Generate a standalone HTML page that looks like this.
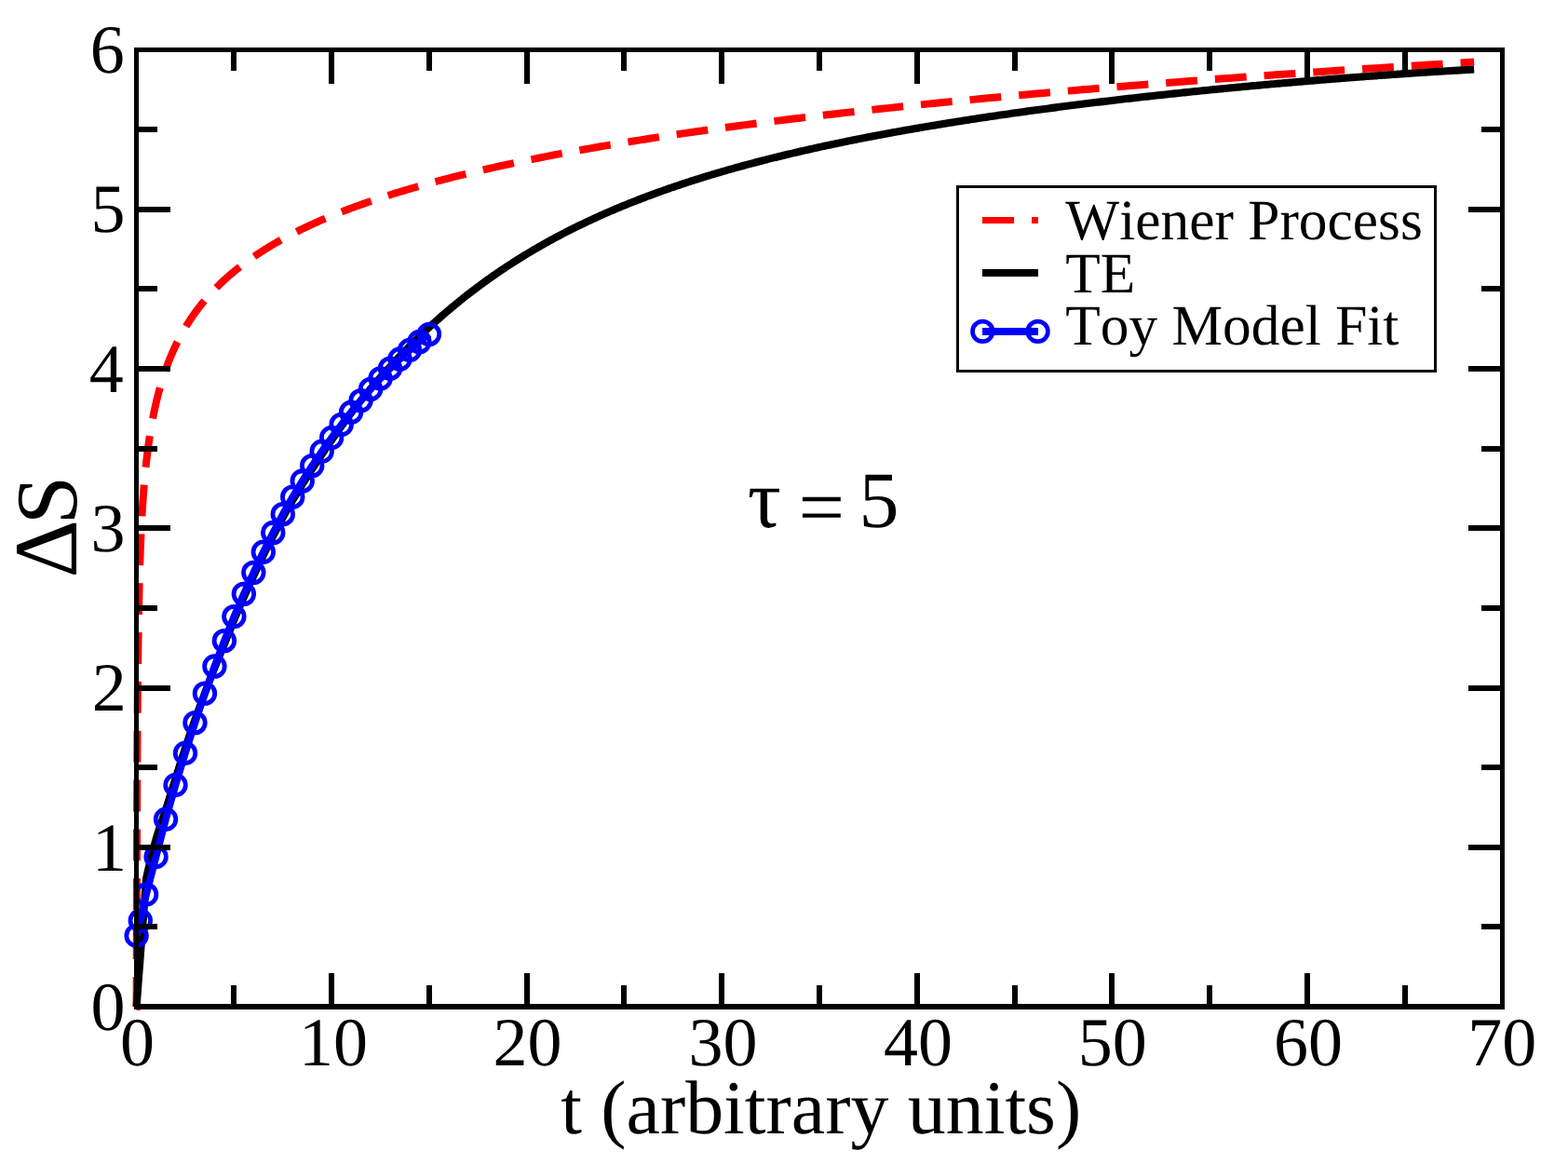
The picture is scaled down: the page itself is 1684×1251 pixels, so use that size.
<!DOCTYPE html>
<html lang="en"><head><meta charset="utf-8"><title>Entropy plot</title>
<style>html,body{margin:0;padding:0;background:#fff}body{width:1684px;height:1251px;overflow:hidden}svg{display:block}text{font-family:"Liberation Serif",serif;fill:#000;font-kerning:none;font-variant-ligatures:none;text-rendering:geometricPrecision}</style></head><body>
<svg width="1684" height="1251" viewBox="0 0 1684 1251">
<rect x="0" y="0" width="1684" height="1251" fill="#fff"/>
<path d="M146.60,1081.00 L146.60,1080.99 L146.60,1080.98 L146.60,1080.97 L146.60,1080.96 L146.60,1080.95 L146.60,1080.94 L146.60,1080.93 L146.60,1080.92 L146.60,1080.91 L146.60,1080.90 L146.61,1080.90 L146.61,1080.89 L146.61,1080.88 L146.61,1080.87 L146.61,1080.86 L146.61,1080.85 L146.61,1080.84 L146.61,1080.83 L146.61,1080.82 L146.61,1080.81 L146.61,1080.80 L146.61,1080.79 L146.61,1080.78 L146.61,1080.77 L146.61,1080.76 L146.61,1080.75 L146.61,1080.74 L146.61,1080.73 L146.61,1080.72 L146.61,1080.71 L146.61,1080.70 L146.61,1080.69 L146.61,1080.68 L146.61,1080.67 L146.61,1080.66 L146.61,1080.65 L146.61,1080.64 L146.61,1080.63 L146.61,1080.62 L146.61,1080.61 L146.61,1080.60 L146.61,1080.59 L146.61,1080.58 L146.61,1080.57 L146.61,1080.56 L146.61,1080.55 L146.61,1080.54 L146.61,1080.53 L146.61,1080.52 L146.61,1080.51 L146.61,1080.50 L146.61,1080.49 L146.61,1080.48 L146.61,1080.47 L146.61,1080.46 L146.61,1080.45 L146.61,1080.44 L146.61,1080.43 L146.61,1080.41 L146.61,1080.40 L146.61,1080.39 L146.61,1080.38 L146.61,1080.36 L146.61,1080.35 L146.61,1080.33 L146.61,1080.32 L146.61,1080.31 L146.61,1080.29 L146.61,1080.28 L146.61,1080.26 L146.61,1080.25 L146.61,1080.23 L146.61,1080.21 L146.61,1080.20 L146.61,1080.18 L146.61,1080.16 L146.61,1080.15 L146.61,1080.13 L146.62,1080.11 L146.62,1080.09 L146.62,1080.07 L146.62,1080.05 L146.62,1080.03 L146.62,1080.01 L146.62,1079.99 L146.62,1079.97 L146.62,1079.95 L146.62,1079.93 L146.62,1079.90 L146.62,1079.88 L146.62,1079.86 L146.62,1079.83 L146.62,1079.81 L146.62,1079.78 L146.62,1079.76 L146.62,1079.73 L146.62,1079.70 L146.62,1079.68 L146.62,1079.65 L146.62,1079.62 L146.62,1079.59 L146.62,1079.56 L146.62,1079.53 L146.62,1079.50 L146.62,1079.47 L146.62,1079.44 L146.62,1079.41 L146.62,1079.37 L146.62,1079.34 L146.62,1079.30 L146.62,1079.27 L146.62,1079.23 L146.62,1079.19 L146.62,1079.16 L146.62,1079.12 L146.62,1079.08 L146.62,1079.04 L146.62,1079.00 L146.62,1078.96 L146.62,1078.91 L146.62,1078.87 L146.62,1078.82 L146.62,1078.78 L146.62,1078.73 L146.62,1078.69 L146.62,1078.64 L146.62,1078.59 L146.63,1078.54 L146.63,1078.49 L146.63,1078.43 L146.63,1078.38 L146.63,1078.33 L146.63,1078.27 L146.63,1078.21 L146.63,1078.16 L146.63,1078.10 L146.63,1078.04 L146.63,1077.98 L146.63,1077.91 L146.63,1077.85 L146.63,1077.78 L146.63,1077.72 L146.63,1077.65 L146.63,1077.58 L146.63,1077.51 L146.63,1077.44 L146.63,1077.36 L146.63,1077.29 L146.63,1077.21 L146.63,1077.13 L146.63,1077.05 L146.63,1076.97 L146.63,1076.89 L146.63,1076.80 L146.63,1076.72 L146.63,1076.63 L146.63,1076.54 L146.63,1076.45 L146.63,1076.35 L146.64,1076.26 L146.64,1076.16 L146.64,1076.06 L146.64,1075.96 L146.64,1075.86 L146.64,1075.75 L146.64,1075.64 L146.64,1075.54 L146.64,1075.42 L146.64,1075.31 L146.64,1075.19 L146.64,1075.08 L146.64,1074.96 L146.64,1074.83 L146.64,1074.71 L146.64,1074.58 L146.64,1074.45 L146.64,1074.32 L146.64,1074.18 L146.64,1074.04 L146.64,1073.90 L146.64,1073.76 L146.64,1073.61 L146.64,1073.46 L146.65,1073.31 L146.65,1073.16 L146.65,1073.00 L146.65,1072.84 L146.65,1072.67 L146.65,1072.51 L146.65,1072.34 L146.65,1072.16 L146.65,1071.99 L146.65,1071.81 L146.65,1071.62 L146.65,1071.44 L146.65,1071.25 L146.65,1071.05 L146.65,1070.86 L146.65,1070.65 L146.65,1070.45 L146.65,1070.24 L146.65,1070.03 L146.66,1069.81 L146.66,1069.59 L146.66,1069.37 L146.66,1069.14 L146.66,1068.91 L146.66,1068.67 L146.66,1068.43 L146.66,1068.18 L146.66,1067.93 L146.66,1067.68 L146.66,1067.42 L146.66,1067.16 L146.66,1066.89 L146.66,1066.62 L146.66,1066.34 L146.66,1066.05 L146.67,1065.77 L146.67,1065.47 L146.67,1065.18 L146.67,1064.87 L146.67,1064.57 L146.67,1064.25 L146.67,1063.93 L146.67,1063.61 L146.67,1063.28 L146.67,1062.95 L146.67,1062.60 L146.67,1062.26 L146.67,1061.91 L146.68,1061.55 L146.68,1061.18 L146.68,1060.81 L146.68,1060.44 L146.68,1060.05 L146.68,1059.67 L146.68,1059.27 L146.68,1058.87 L146.68,1058.46 L146.68,1058.05 L146.68,1057.63 L146.68,1057.20 L146.69,1056.77 L146.69,1056.33 L146.69,1055.88 L146.69,1055.42 L146.69,1054.96 L146.69,1054.49 L146.69,1054.02 L146.69,1053.54 L146.69,1053.05 L146.69,1052.55 L146.69,1052.04 L146.70,1051.53 L146.70,1051.01 L146.70,1050.48 L146.70,1049.95 L146.70,1049.41 L146.70,1048.86 L146.70,1048.30 L146.70,1047.73 L146.70,1047.16 L146.70,1046.58 L146.71,1045.99 L146.71,1045.39 L146.71,1044.79 L146.71,1044.17 L146.71,1043.55 L146.71,1042.92 L146.71,1042.28 L146.71,1041.64 L146.72,1040.98 L146.72,1040.32 L146.72,1039.65 L146.72,1038.96 L146.72,1038.28 L146.72,1037.58 L146.72,1036.87 L146.72,1036.16 L146.73,1035.43 L146.73,1034.70 L146.73,1033.96 L146.73,1033.21 L146.73,1032.46 L146.73,1031.69 L146.73,1030.91 L146.74,1030.13 L146.74,1029.34 L146.74,1028.53 L146.74,1027.72 L146.74,1026.90 L146.74,1026.08 L146.74,1025.24 L146.75,1024.39 L146.75,1023.54 L146.75,1022.68 L146.75,1021.80 L146.75,1020.92 L146.75,1020.03 L146.75,1019.13 L146.76,1018.23 L146.76,1017.31 L146.76,1016.39 L146.76,1015.45 L146.76,1014.51 L146.76,1013.56 L146.77,1012.60 L146.77,1011.63 L146.77,1010.66 L146.77,1009.67 L146.77,1008.68 L146.78,1007.67 L146.78,1006.66 L146.78,1005.64 L146.78,1004.62 L146.78,1003.58 L146.79,1002.54 L146.79,1001.48 L146.79,1000.42 L146.79,999.36 L146.79,998.28 L146.80,997.19 L146.80,996.10 L146.80,995.00 L146.80,993.89 L146.80,992.78 L146.81,991.65 L146.81,990.52 L146.81,989.38 L146.81,988.23 L146.81,987.08 L146.82,985.92 L146.82,984.75 L146.82,983.57 L146.82,982.39 L146.83,981.20 L146.83,980.00 L146.83,978.79 L146.83,977.58 L146.84,976.36 L146.84,975.13 L146.84,973.90 L146.84,972.66 L146.85,971.42 L146.85,970.16 L146.85,968.90 L146.85,967.64 L146.86,966.37 L146.86,965.09 L146.86,963.80 L146.86,962.51 L146.87,961.22 L146.87,959.92 L146.87,958.61 L146.88,957.29 L146.88,955.98 L146.88,954.65 L146.88,953.32 L146.89,951.98 L146.89,950.64 L146.89,949.30 L146.90,947.94 L146.90,946.59 L146.90,945.23 L146.91,943.86 L146.91,942.49 L146.91,941.11 L146.92,939.73 L146.92,938.35 L146.92,936.95 L146.93,935.56 L146.93,934.16 L146.93,932.76 L146.94,931.35 L146.94,929.94 L146.94,928.52 L146.95,927.10 L146.95,925.68 L146.95,924.25 L146.96,922.82 L146.96,921.39 L146.97,919.95 L146.97,918.50 L146.97,917.06 L146.98,915.61 L146.98,914.16 L146.99,912.70 L146.99,911.24 L146.99,909.78 L147.00,908.32 L147.00,906.85 L147.01,905.38 L147.01,903.91 L147.02,902.43 L147.02,900.95 L147.02,899.47 L147.03,897.99 L147.03,896.50 L147.04,895.01 L147.04,893.52 L147.05,892.03 L147.05,890.53 L147.06,889.03 L147.06,887.53 L147.07,886.03 L147.07,884.53 L147.08,883.02 L147.08,881.51 L147.09,880.01 L147.09,878.50 L147.10,876.98 L147.10,875.47 L147.11,873.95 L147.11,872.44 L147.12,870.92 L147.12,869.40 L147.13,867.88 L147.13,866.36 L147.14,864.83 L147.15,863.31 L147.15,861.78 L147.16,860.26 L147.16,858.73 L147.17,857.20 L147.18,855.67 L147.18,854.14 L147.19,852.61 L147.19,851.08 L147.20,849.55 L147.21,848.01 L147.21,846.48 L147.22,844.95 L147.23,843.41 L147.23,841.88 L147.24,840.34 L147.25,838.81 L147.25,837.27 L147.26,835.74 L147.27,834.20 L147.27,832.67 L147.28,831.13 L147.29,829.59 L147.29,828.06 L147.30,826.52 L147.31,824.99 L147.32,823.45 L147.32,821.92 L147.33,820.38 L147.34,818.84 L147.35,817.31 L147.36,815.78 L147.36,814.24 L147.37,812.71 L147.38,811.18 L147.39,809.64 L147.40,808.11 L147.40,806.58 L147.41,805.05 L147.42,803.52 L147.43,801.99 L147.44,800.46 L147.45,798.93 L147.46,797.40 L147.47,795.88 L147.48,794.35 L147.48,792.83 L147.49,791.30 L147.50,789.78 L147.51,788.26 L147.52,786.74 L147.53,785.22 L147.54,783.70 L147.55,782.18 L147.56,780.67 L147.57,779.15 L147.58,777.64 L147.59,776.13 L147.60,774.62 L147.61,773.11 L147.62,771.60 L147.64,770.09 L147.65,768.58 L147.66,767.08 L147.67,765.58 L147.68,764.08 L147.69,762.58 L147.70,761.08 L147.71,759.58 L147.73,758.09 L147.74,756.59 L147.75,755.10 L147.76,753.61 L147.77,752.12 L147.79,750.64 L147.80,749.15 L147.81,747.67 L147.83,746.19 L147.84,744.71 L147.85,743.23 L147.86,741.76 L147.88,740.28 L147.89,738.81 L147.90,737.34 L147.92,735.87 L147.93,734.41 L147.95,732.95 L147.96,731.48 L147.98,730.02 L147.99,728.57 L148.00,727.11 L148.02,725.66 L148.03,724.21 L148.05,722.76 L148.06,721.31 L148.08,719.87 L148.10,718.43 L148.11,716.99 L148.13,715.55 L148.14,714.12 L148.16,712.68 L148.18,711.25 L148.19,709.83 L148.21,708.40 L148.23,706.98 L148.24,705.56 L148.26,704.14 L148.28,702.73 L148.30,701.31 L148.31,699.90 L148.33,698.49 L148.35,697.09 L148.37,695.69 L148.39,694.29 L148.41,692.89 L148.43,691.49 L148.45,690.10 L148.46,688.71 L148.48,687.33 L148.50,685.94 L148.52,684.56 L148.54,683.18 L148.57,681.80 L148.59,680.43 L148.61,679.06 L148.63,677.69 L148.65,676.33 L148.67,674.96 L148.69,673.61 L148.72,672.25 L148.74,670.89 L148.76,669.54 L148.78,668.20 L148.81,666.85 L148.83,665.51 L148.85,664.17 L148.88,662.83 L148.90,661.50 L148.92,660.17 L148.95,658.84 L148.97,657.51 L149.00,656.19 L149.02,654.87 L149.05,653.55 L149.08,652.24 L149.10,650.93 L149.13,649.62 L149.16,648.32 L149.18,647.02 L149.21,645.72 L149.24,644.42 L149.26,643.13 L149.29,641.84 L149.32,640.55 L149.35,639.27 L149.38,637.99 L149.41,636.71 L149.44,635.44 L149.47,634.16 L149.50,632.89 L149.53,631.63 L149.56,630.37 L149.59,629.11 L149.62,627.85 L149.65,626.59 L149.69,625.34 L149.72,624.10 L149.75,622.85 L149.79,621.61 L149.82,620.37 L149.85,619.13 L149.89,617.90 L149.92,616.67 L149.96,615.44 L149.99,614.22 L150.03,613.00 L150.06,611.78 L150.10,610.56 L150.14,609.35 L150.18,608.14 L150.21,606.93 L150.25,605.73 L150.29,604.53 L150.33,603.33 L150.37,602.13 L150.41,600.94 L150.45,599.75 L150.49,598.56 L150.53,597.38 L150.57,596.20 L150.61,595.02 L150.66,593.84 L150.70,592.67 L150.74,591.50 L150.79,590.33 L150.83,589.17 L150.87,588.00 L150.92,586.84 L150.96,585.69 L151.01,584.53 L151.06,583.38 L151.10,582.23 L151.15,581.09 L151.20,579.94 L151.25,578.80 L151.30,577.66 L151.35,576.53 L151.40,575.39 L151.45,574.26 L151.50,573.13 L151.55,572.01 L151.60,570.88 L151.66,569.76 L151.71,568.65 L151.76,567.53 L151.82,566.42 L151.87,565.30 L151.93,564.19 L151.99,563.09 L152.04,561.98 L152.10,560.88 L152.16,559.78 L152.22,558.68 L152.28,557.59 L152.34,556.50 L152.40,555.40 L152.46,554.32 L152.52,553.23 L152.58,552.14 L152.64,551.06 L152.71,549.98 L152.77,548.90 L152.84,547.83 L152.90,546.75 L152.97,545.68 L153.04,544.61 L153.11,543.54 L153.17,542.48 L153.24,541.41 L153.31,540.35 L153.38,539.29 L153.46,538.23 L153.53,537.17 L153.60,536.12 L153.68,535.07 L153.75,534.02 L153.83,532.97 L153.90,531.92 L153.98,530.87 L154.06,529.83 L154.14,528.78 L154.22,527.74 L154.30,526.70 L154.38,525.67 L154.46,524.63 L154.54,523.60 L154.63,522.56 L154.71,521.53 L154.80,520.50 L154.88,519.47 L154.97,518.45 L155.06,517.42 L155.15,516.40 L155.24,515.38 L155.33,514.36 L155.42,513.34 L155.51,512.32 L155.61,511.30 L155.70,510.29 L155.80,509.27 L155.90,508.26 L155.99,507.25 L156.09,506.24 L156.19,505.23 L156.30,504.22 L156.40,503.22 L156.50,502.21 L156.61,501.21 L156.71,500.21 L156.82,499.20 L156.93,498.20 L157.03,497.21 L157.15,496.21 L157.26,495.21 L157.37,494.22 L157.48,493.22 L157.60,492.23 L157.71,491.24 L157.83,490.24 L157.95,489.25 L158.07,488.27 L158.19,487.28 L158.31,486.29 L158.44,485.30 L158.56,484.32 L158.69,483.34 L158.82,482.35 L158.94,481.37 L159.07,480.39 L159.21,479.41 L159.34,478.43 L159.47,477.45 L159.61,476.47 L159.75,475.50 L159.89,474.52 L160.03,473.55 L160.17,472.57 L160.31,471.60 L160.46,470.63 L160.60,469.66 L160.75,468.69 L160.90,467.72 L161.05,466.75 L161.20,465.78 L161.36,464.81 L161.51,463.84 L161.67,462.88 L161.83,461.91 L161.99,460.95 L162.15,459.98 L162.32,459.02 L162.48,458.06 L162.65,457.10 L162.82,456.14 L162.99,455.18 L163.16,454.22 L163.34,453.26 L163.51,452.30 L163.69,451.34 L163.87,450.39 L164.06,449.43 L164.24,448.47 L164.43,447.52 L164.61,446.56 L164.81,445.61 L165.00,444.66 L165.19,443.70 L165.39,442.75 L165.59,441.80 L165.79,440.85 L165.99,439.90 L166.19,438.95 L166.40,438.00 L166.61,437.05 L166.82,436.10 L167.03,435.16 L167.25,434.21 L167.47,433.26 L167.69,432.32 L167.91,431.37 L168.14,430.43 L168.36,429.48 L168.59,428.54 L168.82,427.60 L169.06,426.65 L169.30,425.71 L169.54,424.77 L169.78,423.83 L170.02,422.89 L170.27,421.95 L170.52,421.01 L170.77,420.07 L171.03,419.13 L171.29,418.19 L171.55,417.25 L171.81,416.31 L172.08,415.37 L172.34,414.44 L172.62,413.50 L172.89,412.56 L173.17,411.63 L173.45,410.69 L173.73,409.76 L174.02,408.82 L174.31,407.89 L174.60,406.95 L174.90,406.02 L175.19,405.09 L175.50,404.16 L175.80,403.22 L176.11,402.29 L176.42,401.36 L176.74,400.43 L177.05,399.50 L177.38,398.57 L177.70,397.64 L178.03,396.71 L178.36,395.78 L178.70,394.85 L179.03,393.92 L179.38,392.99 L179.72,392.06 L180.07,391.13 L180.43,390.21 L180.78,389.28 L181.14,388.35 L181.51,387.42 L181.88,386.50 L182.25,385.57 L182.63,384.65 L183.01,383.72 L183.39,382.79 L183.78,381.87 L184.17,380.94 L184.57,380.02 L184.97,379.10 L185.37,378.17 L185.78,377.25 L186.20,376.32 L186.61,375.40 L187.04,374.48 L187.46,373.56 L187.90,372.63 L188.33,371.71 L188.77,370.79 L189.22,369.87 L189.67,368.95 L190.12,368.02 L190.58,367.10 L191.05,366.18 L191.51,365.26 L191.99,364.34 L192.47,363.42 L192.95,362.50 L193.44,361.58 L193.94,360.66 L194.44,359.74 L194.94,358.83 L195.45,357.91 L195.97,356.99 L196.49,356.07 L197.01,355.15 L197.55,354.23 L198.08,353.32 L198.63,352.40 L199.18,351.48 L199.73,350.56 L200.29,349.65 L200.86,348.73 L201.43,347.81 L202.01,346.90 L202.60,345.98 L203.19,345.07 L203.78,344.15 L204.39,343.23 L205.00,342.32 L205.61,341.40 L206.24,340.49 L206.87,339.57 L207.50,338.66 L208.15,337.74 L208.80,336.83 L209.45,335.92 L210.12,335.00 L210.79,334.09 L211.46,333.17 L212.15,332.26 L212.84,331.35 L213.54,330.43 L214.25,329.52 L214.96,328.61 L215.68,327.69 L216.41,326.78 L217.15,325.87 L217.89,324.96 L218.64,324.04 L219.41,323.13 L220.17,322.22 L220.95,321.31 L221.74,320.40 L222.53,319.48 L223.33,318.57 L224.14,317.66 L224.96,316.75 L225.79,315.84 L226.62,314.93 L227.47,314.02 L228.32,313.11 L229.18,312.20 L230.05,311.28 L230.93,310.37 L231.83,309.46 L232.72,308.55 L233.63,307.64 L234.55,306.73 L235.48,305.82 L236.42,304.91 L237.37,304.01 L238.33,303.10 L239.29,302.19 L240.27,301.28 L241.26,300.37 L242.26,299.46 L243.27,298.55 L244.29,297.64 L245.32,296.73 L246.36,295.82 L247.42,294.92 L248.48,294.01 L249.56,293.10 L250.64,292.19 L251.74,291.28 L252.85,290.37 L253.97,289.47 L255.11,288.56 L256.25,287.65 L257.41,286.74 L258.58,285.84 L259.76,284.93 L260.96,284.02 L262.16,283.11 L263.38,282.21 L264.62,281.30 L265.86,280.39 L267.12,279.48 L268.39,278.58 L269.68,277.67 L270.98,276.76 L272.29,275.86 L273.62,274.95 L274.96,274.04 L276.31,273.14 L277.68,272.23 L279.07,271.33 L280.46,270.42 L281.88,269.51 L283.31,268.61 L284.75,267.70 L286.21,266.80 L287.68,265.89 L289.17,264.98 L290.67,264.08 L292.20,263.17 L293.73,262.27 L295.29,261.36 L296.85,260.46 L298.44,259.55 L300.04,258.65 L301.66,257.74 L303.30,256.84 L304.95,255.93 L306.63,255.03 L308.32,254.12 L310.02,253.22 L311.75,252.31 L313.49,251.41 L315.25,250.50 L317.03,249.60 L318.83,248.69 L320.65,247.79 L322.49,246.88 L324.34,245.98 L326.22,245.07 L328.12,244.17 L330.03,243.27 L331.97,242.36 L333.93,241.46 L335.90,240.55 L337.90,239.65 L339.92,238.74 L341.96,237.84 L344.02,236.94 L346.11,236.03 L348.21,235.13 L350.34,234.23 L352.49,233.32 L354.67,232.42 L356.86,231.51 L359.08,230.61 L361.32,229.71 L363.59,228.80 L365.88,227.90 L368.20,227.00 L370.54,226.09 L372.90,225.19 L375.29,224.29 L377.70,223.38 L380.14,222.48 L382.61,221.58 L385.10,220.68 L387.62,219.77 L390.16,218.87 L392.73,217.97 L395.33,217.06 L397.95,216.16 L400.61,215.26 L403.29,214.35 L406.00,213.45 L408.74,212.55 L411.50,211.65 L414.30,210.74 L417.13,209.84 L419.98,208.94 L422.87,208.04 L425.78,207.13 L428.73,206.23 L431.71,205.33 L434.72,204.43 L437.76,203.52 L440.83,202.62 L443.94,201.72 L447.08,200.82 L450.25,199.92 L453.46,199.01 L456.69,198.11 L459.97,197.21 L463.28,196.31 L466.62,195.40 L470.00,194.50 L473.41,193.60 L476.86,192.70 L480.35,191.80 L483.87,190.89 L487.43,189.99 L491.03,189.09 L494.66,188.19 L498.34,187.29 L502.05,186.39 L505.80,185.48 L509.59,184.58 L513.43,183.68 L517.30,182.78 L521.21,181.88 L525.17,180.98 L529.16,180.07 L533.20,179.17 L537.28,178.27 L541.41,177.37 L545.57,176.47 L549.78,175.57 L554.04,174.66 L558.34,173.76 L562.69,172.86 L567.08,171.96 L571.52,171.06 L576.00,170.16 L580.54,169.26 L585.12,168.36 L589.75,167.45 L594.42,166.55 L599.15,165.65 L603.93,164.75 L608.76,163.85 L613.63,162.95 L618.57,162.05 L623.55,161.15 L628.58,160.25 L633.67,159.34 L638.81,158.44 L644.01,157.54 L649.26,156.64 L654.56,155.74 L659.93,154.84 L665.34,153.94 L670.82,153.04 L676.35,152.14 L681.95,151.24 L687.60,150.33 L693.31,149.43 L699.08,148.53 L704.91,147.63 L710.80,146.73 L716.76,145.83 L722.78,144.93 L728.86,144.03 L735.01,143.13 L741.22,142.23 L747.49,141.33 L753.84,140.43 L760.25,139.53 L766.73,138.63 L773.27,137.72 L779.89,136.82 L786.57,135.92 L793.33,135.02 L800.15,134.12 L807.05,133.22 L814.02,132.32 L821.07,131.42 L828.19,130.52 L835.38,129.62 L842.66,128.72 L850.00,127.82 L857.43,126.92 L864.93,126.02 L872.51,125.12 L880.18,124.22 L887.92,123.32 L895.75,122.42 L903.65,121.52 L911.65,120.62 L919.72,119.72 L927.88,118.82 L936.13,117.91 L944.46,117.01 L952.89,116.11 L961.40,115.21 L970.00,114.31 L978.69,113.41 L987.47,112.51 L996.35,111.61 L1005.32,110.71 L1014.38,109.81 L1023.54,108.91 L1032.80,108.01 L1042.16,107.11 L1051.61,106.21 L1061.16,105.31 L1070.82,104.41 L1080.57,103.51 L1090.43,102.61 L1100.40,101.71 L1110.46,100.81 L1120.64,99.91 L1130.92,99.01 L1141.31,98.11 L1151.81,97.21 L1162.42,96.31 L1173.14,95.41 L1183.98,94.51 L1194.93,93.61 L1206.00,92.71 L1217.18,91.81 L1228.48,90.91 L1239.90,90.01 L1251.44,89.11 L1263.11,88.21 L1274.89,87.31 L1286.80,86.41 L1298.84,85.51 L1311.00,84.61 L1323.29,83.71 L1335.71,82.81 L1348.27,81.91 L1360.95,81.01 L1373.77,80.11 L1386.72,79.21 L1399.81,78.31 L1413.04,77.41 L1426.41,76.51 L1439.92,75.61 L1453.57,74.71 L1467.37,73.81 L1481.31,72.91 L1495.40,72.01 L1509.64,71.11 L1524.03,70.21 L1538.57,69.31 L1553.26,68.41 L1568.11,67.51 L1583.11,66.61" fill="none" stroke="#ff0000" stroke-width="8.00" stroke-dasharray="33.90 18.95" stroke-dashoffset="1.80"/>
<path d="M146.60,1081.00 L146.81,1078.23 L147.02,1075.46 L147.23,1072.70 L147.44,1069.93 L147.65,1067.16 L147.86,1064.39 L148.07,1061.63 L148.28,1058.86 L148.50,1056.09 L148.71,1053.32 L148.92,1050.56 L149.13,1047.79 L149.34,1045.02 L149.55,1042.25 L149.76,1039.49 L149.97,1036.72 L150.18,1033.95 L150.39,1031.18 L150.60,1028.42 L150.81,1025.65 L151.02,1022.88 L151.23,1020.11 L151.44,1017.35 L151.65,1014.58 L151.87,1011.81 L152.08,1009.04 L152.29,1006.28 L152.50,1003.51 L152.71,1000.74 L152.92,997.97 L153.13,995.21 L153.34,992.44 L153.55,989.67 L153.76,986.90 L153.97,984.14 L154.18,981.37 L154.39,978.60 L154.60,975.83 L154.81,973.07 L155.02,970.30 L155.24,967.53 L155.45,964.76 L155.66,962.00 L155.87,959.23 L156.08,956.46 L156.29,953.69 L156.50,950.93 L156.71,948.16 L156.92,945.39 L157.13,943.08 L157.34,942.13 L157.55,941.18 L157.76,940.24 L157.97,939.30 L158.18,938.37 L158.39,937.44 L158.60,936.51 L158.82,935.59 L159.03,934.67 L159.24,933.76 L159.45,932.85 L159.66,931.94 L159.87,931.04 L160.08,930.14 L160.29,929.24 L160.50,928.35 L160.71,927.47 L160.92,926.59 L161.13,925.71 L161.34,924.83 L161.55,923.97 L161.76,923.10 L161.97,922.24 L162.19,921.39 L162.40,920.53 L162.61,919.69 L162.82,918.85 L163.03,918.01 L163.24,917.18 L163.45,916.35 L163.66,915.52 L163.87,914.71 L164.08,913.89 L164.29,913.08 L164.50,912.28 L164.71,911.48 L164.92,910.69 L165.13,909.90 L165.34,909.11 L165.55,908.33 L165.77,907.56 L165.98,906.79 L166.19,906.03 L166.40,905.27 L166.61,904.51 L166.82,903.76 L167.03,903.02 L167.24,902.28 L167.45,901.55 L167.66,900.83 L167.87,900.11 L168.08,899.39 L168.29,898.69 L168.50,897.99 L168.71,897.30 L168.92,896.62 L169.14,895.94 L169.35,895.27 L169.56,894.60 L169.77,893.94 L169.98,893.29 L170.19,892.64 L170.40,891.99 L170.61,891.35 L170.82,890.71 L171.03,890.08 L171.24,889.45 L171.45,888.82 L171.66,888.20 L171.87,887.58 L172.08,886.96 L172.29,886.34 L172.51,885.73 L172.72,885.12 L172.93,884.51 L173.14,883.90 L173.35,883.29 L173.56,882.69 L173.77,882.08 L173.98,881.47 L174.19,880.87 L174.40,880.26 L174.61,879.66 L174.82,879.05 L175.03,878.44 L175.24,877.83 L175.45,877.22 L175.66,876.61 L175.87,875.99 L176.09,875.37 L176.30,874.75 L176.51,874.13 L176.72,873.50 L176.93,872.88 L177.14,872.24 L177.35,871.61 L177.56,870.96 L177.77,870.32 L177.98,869.67 L178.19,869.02 L178.40,868.36 L178.61,867.70 L178.82,867.04 L179.03,866.38 L179.24,865.72 L179.46,865.06 L179.67,864.39 L179.88,863.73 L180.09,863.06 L180.30,862.39 L180.51,861.72 L180.72,861.05 L180.93,860.38 L181.14,859.71 L181.35,859.03 L181.56,858.36 L181.77,857.69 L181.98,857.01 L182.19,856.34 L182.40,855.66 L182.61,854.98 L182.82,854.30 L183.04,853.63 L183.25,852.95 L183.46,852.27 L183.67,851.59 L183.88,850.92 L184.09,850.24 L184.30,849.56 L184.51,848.88 L184.72,848.20 L184.93,847.53 L185.14,846.85 L185.35,846.17 L185.56,845.50 L185.77,844.82 L185.98,844.15 L186.19,843.47 L186.41,842.80 L186.62,842.12 L186.83,841.45 L187.04,840.78 L187.25,840.11 L187.46,839.44 L187.67,838.77 L187.88,838.11 L188.09,837.44 L188.30,836.78 L188.51,836.11 L190.51,829.84 L192.50,823.58 L194.50,817.36 L196.49,811.19 L198.49,805.10 L200.48,799.07 L202.48,793.08 L204.47,787.16 L206.47,781.32 L208.46,775.59 L210.46,769.99 L212.45,764.54 L214.45,759.19 L216.44,753.90 L218.44,748.64 L220.43,743.37 L222.43,738.09 L224.42,732.81 L226.42,727.58 L228.41,722.40 L230.41,717.30 L232.40,712.31 L234.40,707.41 L236.39,702.56 L238.39,697.72 L240.39,692.85 L242.38,687.90 L244.38,682.91 L246.37,677.89 L248.37,672.91 L250.36,668.01 L252.36,663.21 L254.35,658.49 L256.35,653.83 L258.34,649.22 L260.34,644.67 L262.33,640.16 L264.33,635.71 L266.32,631.31 L268.32,626.96 L270.31,622.64 L272.31,618.34 L274.30,614.06 L276.30,609.80 L278.29,605.58 L280.29,601.40 L282.28,597.27 L284.28,593.22 L286.27,589.22 L288.27,585.26 L290.26,581.35 L292.26,577.47 L294.25,573.61 L296.25,569.76 L298.24,565.94 L300.24,562.16 L302.23,558.43 L304.23,554.76 L306.22,551.15 L308.22,547.58 L310.21,544.06 L312.21,540.59 L314.21,537.18 L316.20,533.82 L318.20,530.53 L320.19,527.27 L322.19,524.05 L324.18,520.85 L326.18,517.67 L328.17,514.50 L330.17,511.36 L332.16,508.24 L334.16,505.15 L336.15,502.09 L338.15,499.05 L340.14,496.04 L342.14,493.05 L344.13,490.08 L346.13,487.13 L348.12,484.19 L350.12,481.28 L352.11,478.38 L354.11,475.50 L356.10,472.63 L358.10,469.76 L360.09,466.90 L362.09,464.05 L364.08,461.22 L366.08,458.42 L368.07,455.66 L370.07,452.91 L372.06,450.19 L374.06,447.49 L376.05,444.83 L378.05,442.21 L380.04,439.63 L382.04,437.08 L384.04,434.55 L386.03,432.04 L388.03,429.54 L390.02,427.07 L392.02,424.62 L394.01,422.19 L396.01,419.80 L398.00,417.44 L400.00,415.11 L401.99,412.81 L403.99,410.54 L405.98,408.28 L407.98,406.05 L409.97,403.79 L411.97,401.54 L413.96,399.29 L415.96,397.07 L417.95,394.87 L419.95,392.68 L421.94,390.51 L423.94,388.36 L425.93,386.23 L427.93,384.11 L429.92,382.01 L431.92,379.93 L433.91,377.86 L435.91,375.82 L437.90,373.78 L439.90,371.77 L441.89,369.77 L443.89,367.79 L445.88,365.82 L447.88,363.87 L449.87,361.94 L451.87,360.02 L453.87,358.11 L455.86,356.23 L457.86,354.35 L459.85,352.50 L461.85,350.65 L463.84,348.83 L465.84,347.02 L467.83,345.22 L469.83,343.44 L471.82,341.67 L473.82,339.91 L475.81,338.17 L477.81,336.45 L479.80,334.74 L481.80,333.04 L483.79,331.36 L485.79,329.69 L487.78,328.03 L489.78,326.39 L491.77,324.76 L493.77,323.14 L495.76,321.54 L497.76,319.95 L499.75,318.37 L501.75,316.81 L503.74,315.26 L505.74,313.72 L507.73,312.19 L509.73,310.67 L511.72,309.17 L513.72,307.68 L515.71,306.20 L517.71,304.74 L519.70,303.28 L521.70,301.84 L523.69,300.41 L525.69,298.99 L527.69,297.58 L529.68,296.18 L531.68,294.80 L533.67,293.42 L535.67,292.06 L537.66,290.70 L539.66,289.36 L541.65,288.03 L543.65,286.71 L545.64,285.40 L547.64,284.10 L549.63,282.81 L551.63,281.53 L553.62,280.26 L555.62,279.00 L557.61,277.75 L559.61,276.51 L561.60,275.28 L563.60,274.06 L565.59,272.85 L567.59,271.64 L569.58,270.45 L571.58,269.27 L573.57,268.10 L575.57,266.93 L577.56,265.77 L579.56,264.63 L581.55,263.49 L583.55,262.36 L585.54,261.24 L587.54,260.13 L589.53,259.02 L591.53,257.93 L593.52,256.84 L595.52,255.76 L597.52,254.69 L599.51,253.63 L601.51,252.58 L603.50,251.53 L605.50,250.49 L607.49,249.46 L609.49,248.44 L611.48,247.43 L613.48,246.42 L615.47,245.42 L617.47,244.43 L619.46,243.44 L621.46,242.46 L623.45,241.49 L625.45,240.53 L627.44,239.57 L629.44,238.62 L631.43,237.68 L633.43,236.75 L635.42,235.82 L637.42,234.90 L639.41,233.98 L641.41,233.07 L643.40,232.17 L645.40,231.28 L647.39,230.39 L649.39,229.50 L651.38,228.63 L653.38,227.76 L655.37,226.89 L657.37,226.04 L659.36,225.19 L661.36,224.34 L663.35,223.50 L665.35,222.67 L667.35,221.84 L669.34,221.02 L671.34,220.20 L673.33,219.39 L675.33,218.59 L677.32,217.79 L679.32,216.99 L681.31,216.20 L683.31,215.42 L685.30,214.64 L687.30,213.87 L689.29,213.10 L691.29,212.34 L693.28,211.59 L695.28,210.83 L697.27,210.09 L699.27,209.35 L701.26,208.61 L703.26,207.88 L705.25,207.15 L707.25,206.43 L709.24,205.71 L711.24,205.00 L713.23,204.29 L715.23,203.59 L717.22,202.89 L719.22,202.20 L721.21,201.51 L723.21,200.82 L725.20,200.14 L727.20,199.47 L729.19,198.80 L731.19,198.13 L733.18,197.46 L735.18,196.81 L737.17,196.15 L739.17,195.50 L741.17,194.85 L743.16,194.21 L745.16,193.57 L747.15,192.94 L749.15,192.31 L751.14,191.68 L753.14,191.06 L755.13,190.44 L757.13,189.82 L759.12,189.21 L761.12,188.61 L763.11,188.00 L765.11,187.40 L767.10,186.81 L769.10,186.21 L771.09,185.62 L773.09,185.04 L775.08,184.45 L777.08,183.88 L779.07,183.30 L781.07,182.73 L783.06,182.16 L785.06,181.59 L787.05,181.03 L789.05,180.47 L791.04,179.92 L793.04,179.36 L795.03,178.82 L797.03,178.27 L799.02,177.73 L801.02,177.19 L803.01,176.65 L805.01,176.12 L807.00,175.59 L809.00,175.06 L811.00,174.53 L812.99,174.01 L814.99,173.49 L816.98,172.98 L818.98,172.46 L820.97,171.95 L822.97,171.45 L824.96,170.94 L826.96,170.44 L828.95,169.94 L830.95,169.44 L832.94,168.95 L834.94,168.46 L836.93,167.97 L838.93,167.48 L840.92,167.00 L842.92,166.52 L844.91,166.04 L846.91,165.56 L848.90,165.09 L850.90,164.62 L852.89,164.15 L854.89,163.69 L856.88,163.22 L858.88,162.76 L860.87,162.30 L862.87,161.85 L864.86,161.39 L866.86,160.94 L868.85,160.49 L870.85,160.04 L872.84,159.60 L874.84,159.15 L876.83,158.71 L878.83,158.28 L880.82,157.84 L882.82,157.41 L884.82,156.97 L886.81,156.54 L888.81,156.12 L890.80,155.69 L892.80,155.27 L894.79,154.85 L896.79,154.43 L898.78,154.01 L900.78,153.59 L902.77,153.18 L904.77,152.77 L906.76,152.36 L908.76,151.95 L910.75,151.54 L912.75,151.14 L914.74,150.74 L916.74,150.34 L918.73,149.94 L920.73,149.54 L922.72,149.15 L924.72,148.76 L926.71,148.37 L928.71,147.98 L930.70,147.59 L932.70,147.20 L934.69,146.82 L936.69,146.44 L938.68,146.06 L940.68,145.68 L942.67,145.30 L944.67,144.92 L946.66,144.55 L948.66,144.18 L950.65,143.81 L952.65,143.44 L954.65,143.07 L956.64,142.71 L958.64,142.34 L960.63,141.98 L962.63,141.62 L964.62,141.26 L966.62,140.90 L968.61,140.54 L970.61,140.19 L972.60,139.84 L974.60,139.48 L976.59,139.13 L978.59,138.79 L980.58,138.44 L982.58,138.09 L984.57,137.75 L986.57,137.40 L988.56,137.06 L990.56,136.72 L992.55,136.38 L994.55,136.04 L996.54,135.71 L998.54,135.37 L1000.53,135.04 L1002.53,134.71 L1004.52,134.38 L1006.52,134.05 L1008.51,133.72 L1010.51,133.39 L1012.50,133.07 L1014.50,132.74 L1016.49,132.42 L1018.49,132.10 L1020.48,131.78 L1022.48,131.46 L1024.48,131.14 L1026.47,130.82 L1028.47,130.51 L1030.46,130.19 L1032.46,129.88 L1034.45,129.57 L1036.45,129.26 L1038.44,128.95 L1040.44,128.64 L1042.43,128.33 L1044.43,128.03 L1046.42,127.72 L1048.42,127.42 L1050.41,127.12 L1052.41,126.81 L1054.40,126.51 L1056.40,126.22 L1058.39,125.92 L1060.39,125.62 L1062.38,125.32 L1064.38,125.03 L1066.37,124.74 L1068.37,124.44 L1070.36,124.15 L1072.36,123.86 L1074.35,123.57 L1076.35,123.28 L1078.34,123.00 L1080.34,122.71 L1082.33,122.43 L1084.33,122.14 L1086.32,121.86 L1088.32,121.58 L1090.31,121.29 L1092.31,121.01 L1094.30,120.74 L1096.30,120.46 L1098.30,120.18 L1100.29,119.90 L1102.29,119.63 L1104.28,119.36 L1106.28,119.08 L1108.27,118.81 L1110.27,118.54 L1112.26,118.27 L1114.26,118.00 L1116.25,117.73 L1118.25,117.46 L1120.24,117.20 L1122.24,116.93 L1124.23,116.67 L1126.23,116.40 L1128.22,116.14 L1130.22,115.88 L1132.21,115.62 L1134.21,115.36 L1136.20,115.10 L1138.20,114.84 L1140.19,114.58 L1142.19,114.32 L1144.18,114.07 L1146.18,113.81 L1148.17,113.56 L1150.17,113.31 L1152.16,113.05 L1154.16,112.80 L1156.15,112.55 L1158.15,112.30 L1160.14,112.05 L1162.14,111.81 L1164.13,111.56 L1166.13,111.31 L1168.13,111.07 L1170.12,110.82 L1172.12,110.58 L1174.11,110.33 L1176.11,110.09 L1178.10,109.85 L1180.10,109.61 L1182.09,109.37 L1184.09,109.13 L1186.08,108.89 L1188.08,108.66 L1190.07,108.42 L1192.07,108.18 L1194.06,107.95 L1196.06,107.71 L1198.05,107.48 L1200.05,107.25 L1202.04,107.01 L1204.04,106.78 L1206.03,106.55 L1208.03,106.32 L1210.02,106.09 L1212.02,105.87 L1214.01,105.64 L1216.01,105.41 L1218.00,105.18 L1220.00,104.96 L1221.99,104.73 L1223.99,104.51 L1225.98,104.29 L1227.98,104.07 L1229.97,103.84 L1231.97,103.62 L1233.96,103.40 L1235.96,103.18 L1237.96,102.96 L1239.95,102.75 L1241.95,102.53 L1243.94,102.31 L1245.94,102.10 L1247.93,101.88 L1249.93,101.67 L1251.92,101.45 L1253.92,101.24 L1255.91,101.03 L1257.91,100.81 L1259.90,100.60 L1261.90,100.39 L1263.89,100.18 L1265.89,99.97 L1267.88,99.77 L1269.88,99.56 L1271.87,99.35 L1273.87,99.14 L1275.86,98.94 L1277.86,98.73 L1279.85,98.53 L1281.85,98.33 L1283.84,98.12 L1285.84,97.92 L1287.83,97.72 L1289.83,97.52 L1291.82,97.32 L1293.82,97.12 L1295.81,96.92 L1297.81,96.72 L1299.80,96.52 L1301.80,96.32 L1303.79,96.13 L1305.79,95.93 L1307.78,95.74 L1309.78,95.54 L1311.78,95.35 L1313.77,95.16 L1315.77,94.96 L1317.76,94.77 L1319.76,94.58 L1321.75,94.39 L1323.75,94.20 L1325.74,94.01 L1327.74,93.82 L1329.73,93.63 L1331.73,93.44 L1333.72,93.26 L1335.72,93.07 L1337.71,92.88 L1339.71,92.70 L1341.70,92.51 L1343.70,92.33 L1345.69,92.15 L1347.69,91.96 L1349.68,91.78 L1351.68,91.60 L1353.67,91.42 L1355.67,91.24 L1357.66,91.06 L1359.66,90.88 L1361.65,90.70 L1363.65,90.52 L1365.64,90.34 L1367.64,90.17 L1369.63,89.99 L1371.63,89.82 L1373.62,89.64 L1375.62,89.47 L1377.61,89.29 L1379.61,89.12 L1381.61,88.95 L1383.60,88.78 L1385.60,88.60 L1387.59,88.43 L1389.59,88.26 L1391.58,88.09 L1393.58,87.92 L1395.57,87.75 L1397.57,87.59 L1399.56,87.42 L1401.56,87.25 L1403.55,87.09 L1405.55,86.92 L1407.54,86.76 L1409.54,86.59 L1411.53,86.43 L1413.53,86.26 L1415.52,86.10 L1417.52,85.94 L1419.51,85.78 L1421.51,85.62 L1423.50,85.46 L1425.50,85.30 L1427.49,85.14 L1429.49,84.98 L1431.48,84.82 L1433.48,84.66 L1435.47,84.51 L1437.47,84.35 L1439.46,84.19 L1441.46,84.04 L1443.45,83.88 L1445.45,83.73 L1447.44,83.58 L1449.44,83.42 L1451.43,83.27 L1453.43,83.12 L1455.43,82.97 L1457.42,82.82 L1459.42,82.67 L1461.41,82.52 L1463.41,82.37 L1465.40,82.22 L1467.40,82.07 L1469.39,81.93 L1471.39,81.78 L1473.38,81.63 L1475.38,81.49 L1477.37,81.34 L1479.37,81.20 L1481.36,81.06 L1483.36,80.91 L1485.35,80.77 L1487.35,80.63 L1489.34,80.49 L1491.34,80.35 L1493.33,80.21 L1495.33,80.07 L1497.32,79.93 L1499.32,79.79 L1501.31,79.66 L1503.31,79.52 L1505.30,79.38 L1507.30,79.25 L1509.29,79.11 L1511.29,78.98 L1513.28,78.84 L1515.28,78.71 L1517.27,78.58 L1519.27,78.45 L1521.26,78.31 L1523.26,78.18 L1525.26,78.05 L1527.25,77.92 L1529.25,77.80 L1531.24,77.67 L1533.24,77.54 L1535.23,77.41 L1537.23,77.29 L1539.22,77.16 L1541.22,77.04 L1543.21,76.91 L1545.21,76.79 L1547.20,76.67 L1549.20,76.54 L1551.19,76.42 L1553.19,76.30 L1555.18,76.18 L1557.18,76.06 L1559.17,75.94 L1561.17,75.83 L1563.16,75.71 L1565.16,75.59 L1567.15,75.48 L1569.15,75.36 L1571.14,75.25 L1573.14,75.13 L1575.13,75.02 L1577.13,74.91 L1579.12,74.80 L1581.12,74.69 L1583.11,74.58" fill="none" stroke="#000" stroke-width="8.10" stroke-linejoin="round"/>
<path d="M146.60,1004.71 L150.79,988.52 L157.08,960.44 L167.56,920.02 L178.03,879.78 L188.51,842.96 L198.99,808.71 L209.47,776.17 L219.94,744.66 L230.42,715.55 L240.90,688.15 L251.38,662.12 L261.86,637.81 L272.33,614.86 L282.81,592.77 L293.29,572.05 L303.77,552.18 L314.25,533.68 L324.72,516.56 L335.20,500.12 L345.68,484.71 L356.16,469.98 L366.63,455.94 L377.11,442.58 L387.59,430.08 L398.07,417.92 L408.55,406.45 L419.02,395.66 L429.50,385.55 L439.98,375.96 L450.46,367.06 L460.94,358.84" fill="none" stroke="#0000ff" stroke-width="7.70" stroke-linejoin="round"/>
<g fill="none" stroke="#0000ff" stroke-width="4.8">
<circle cx="146.60" cy="1004.71" r="10.8"/>
<circle cx="150.79" cy="988.52" r="10.8"/>
<circle cx="157.08" cy="960.44" r="10.8"/>
<circle cx="167.56" cy="920.02" r="10.8"/>
<circle cx="178.03" cy="879.78" r="10.8"/>
<circle cx="188.51" cy="842.96" r="10.8"/>
<circle cx="198.99" cy="808.71" r="10.8"/>
<circle cx="209.47" cy="776.17" r="10.8"/>
<circle cx="219.94" cy="744.66" r="10.8"/>
<circle cx="230.42" cy="715.55" r="10.8"/>
<circle cx="240.90" cy="688.15" r="10.8"/>
<circle cx="251.38" cy="662.12" r="10.8"/>
<circle cx="261.86" cy="637.81" r="10.8"/>
<circle cx="272.33" cy="614.86" r="10.8"/>
<circle cx="282.81" cy="592.77" r="10.8"/>
<circle cx="293.29" cy="572.05" r="10.8"/>
<circle cx="303.77" cy="552.18" r="10.8"/>
<circle cx="314.25" cy="533.68" r="10.8"/>
<circle cx="324.72" cy="516.56" r="10.8"/>
<circle cx="335.20" cy="500.12" r="10.8"/>
<circle cx="345.68" cy="484.71" r="10.8"/>
<circle cx="356.16" cy="469.98" r="10.8"/>
<circle cx="366.63" cy="455.94" r="10.8"/>
<circle cx="377.11" cy="442.58" r="10.8"/>
<circle cx="387.59" cy="430.08" r="10.8"/>
<circle cx="398.07" cy="417.92" r="10.8"/>
<circle cx="408.55" cy="406.45" r="10.8"/>
<circle cx="419.02" cy="395.66" r="10.8"/>
<circle cx="429.50" cy="385.55" r="10.8"/>
<circle cx="439.98" cy="375.96" r="10.8"/>
<circle cx="450.46" cy="367.06" r="10.8"/>
<circle cx="460.94" cy="358.84" r="10.8"/>
</g>
<g stroke="#000" fill="none" shape-rendering="crispEdges">
<rect x="146.60" y="53.50" width="1466.90" height="1027.50" stroke-width="5.20"/>
<path d="M251.38,1081.00 v-22.80 M251.38,53.50 v22.80 M356.16,1081.00 v-36.30 M356.16,53.50 v36.30 M460.94,1081.00 v-22.80 M460.94,53.50 v22.80 M565.71,1081.00 v-36.30 M565.71,53.50 v36.30 M670.49,1081.00 v-22.80 M670.49,53.50 v22.80 M775.27,1081.00 v-36.30 M775.27,53.50 v36.30 M880.05,1081.00 v-22.80 M880.05,53.50 v22.80 M984.83,1081.00 v-36.30 M984.83,53.50 v36.30 M1089.61,1081.00 v-22.80 M1089.61,53.50 v22.80 M1194.39,1081.00 v-36.30 M1194.39,53.50 v36.30 M1299.16,1081.00 v-22.80 M1299.16,53.50 v22.80 M1403.94,1081.00 v-36.30 M1403.94,53.50 v36.30 M1508.72,1081.00 v-22.80 M1508.72,53.50 v22.80 M146.60,995.38 h22.80 M1613.50,995.38 h-22.80 M146.60,909.75 h36.30 M1613.50,909.75 h-36.30 M146.60,824.12 h22.80 M1613.50,824.12 h-22.80 M146.60,738.50 h36.30 M1613.50,738.50 h-36.30 M146.60,652.88 h22.80 M1613.50,652.88 h-22.80 M146.60,567.25 h36.30 M1613.50,567.25 h-36.30 M146.60,481.62 h22.80 M1613.50,481.62 h-22.80 M146.60,396.00 h36.30 M1613.50,396.00 h-36.30 M146.60,310.38 h22.80 M1613.50,310.38 h-22.80 M146.60,224.75 h36.30 M1613.50,224.75 h-36.30 M146.60,139.12 h22.80 M1613.50,139.12 h-22.80" stroke-width="6.00"/>
</g>
<g font-size="74.0px" letter-spacing="0.0">
<text x="129.00" y="1144.1">0</text>
<text x="321.11" y="1144.1">10</text>
<text x="529.60" y="1144.1">20</text>
<text x="739.51" y="1144.1">30</text>
<text x="949.02" y="1144.1">40</text>
<text x="1157.84" y="1144.1">50</text>
<text x="1367.96" y="1144.1">60</text>
<text x="1576.37" y="1144.1">70</text>
<text x="97.42" y="1105.65">0</text>
<text x="99.04" y="934.58">1</text>
<text x="98.68" y="763.40">2</text>
<text x="97.49" y="591.79">3</text>
<text x="95.76" y="420.75">4</text>
<text x="97.49" y="249.02">5</text>
<text x="96.80" y="78.04">6</text>
</g>
<text x="881.7" y="1217.4" font-size="81.85px" text-anchor="middle">t (arbitrary units)</text>
<text transform="translate(82.1,620.6) rotate(-90)"><tspan font-size="97px">Δ</tspan><tspan x="57.4" y="0.2" font-size="94px">S</tspan></text>
<text font-size="90px"><tspan x="802.8" y="565.9">τ</tspan> <tspan x="857.6" y="573.8" font-size="88px">=</tspan> <tspan x="922.5" y="565.6" font-size="86px">5</tspan></text>
<rect x="1028.4" y="200.4" width="513.0" height="198" fill="#fff" stroke="#000" stroke-width="3" shape-rendering="crispEdges"/>
<path d="M1055,236.5 H1115" stroke="#ff0000" stroke-width="7" stroke-dasharray="34 19" fill="none" shape-rendering="crispEdges"/>
<path d="M1055,293 H1115" stroke="#000" stroke-width="8" fill="none" shape-rendering="crispEdges"/>
<path d="M1055,356 H1115" stroke="#0000ff" stroke-width="8" fill="none" shape-rendering="crispEdges"/>
<g fill="none" stroke="#0000ff" stroke-width="4.7"><circle cx="1055.3" cy="355.9" r="10.8"/><circle cx="1114.6" cy="355.9" r="10.8"/></g>
<g font-size="61.4px">
<text x="1144.3" y="256.8">Wiener Process</text>
<text x="1144.3" y="313.6">TE</text>
<text x="1144.3" y="370.3">Toy Model Fit</text>
</g>
</svg></body></html>
